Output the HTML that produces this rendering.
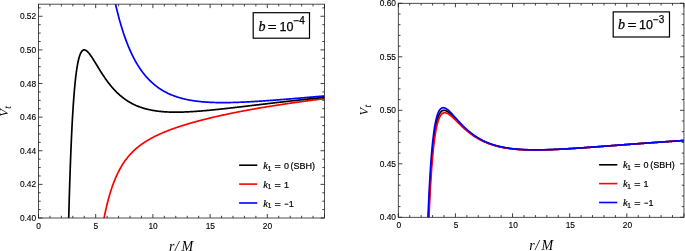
<!DOCTYPE html>
<html><head><meta charset="utf-8"><title>Vt plots</title>
<style>
html,body{margin:0;padding:0;background:#fff;}
svg{display:block}
.tk{font-family:"Liberation Sans",sans-serif;font-size:8.4px;fill:#000;stroke:#000;stroke-width:0.12px}
.ax{font-family:"Liberation Serif",serif;font-style:italic;font-size:14px;fill:#000}
.vt{font-size:12.5px}
.sub{font-size:10px}
.bx{font-family:"Liberation Sans",sans-serif;font-size:12.5px;fill:#000;stroke:#000;stroke-width:0.25px}
.it{font-family:"Liberation Serif",serif;font-style:italic;font-size:14px}
.sup{font-size:10px}
.lg{font-family:"Liberation Sans",sans-serif;font-size:9px;fill:#000;stroke:#000;stroke-width:0.2px}
.itl{font-family:"Liberation Serif",serif;font-style:italic;font-size:10.5px}
.lsub{font-size:6.5px}
</style></head><body>
<svg width="685" height="251" viewBox="0 0 685 251">
<rect width="685" height="251" fill="#fff"/>
<clipPath id="c38"><rect x="38.5" y="4.15" width="286.0" height="213.85"/></clipPath>
<path d="M102.39,-79.00 L102.93,-74.25 L103.47,-69.65 L104.02,-65.19 L104.56,-60.87 L105.10,-56.68 L105.65,-52.61 L106.19,-48.66 L106.73,-44.83 L107.28,-41.11 L107.82,-37.50 L108.36,-34.00 L108.91,-30.59 L109.45,-27.29 L109.99,-24.07 L110.54,-20.95 L111.08,-17.91 L111.62,-14.96 L112.17,-12.09 L112.71,-9.30 L113.25,-6.58 L113.80,-3.94 L114.34,-1.37 L114.88,1.14 L115.43,3.57 L115.97,5.94 L116.51,8.25 L117.06,10.50 L117.60,12.70 L118.14,14.83 L118.69,16.91 L119.23,18.94 L119.77,20.91 L120.32,22.84 L120.86,24.71 L121.40,26.54 L121.95,28.33 L122.49,30.06 L123.03,31.76 L123.58,33.42 L124.12,35.03 L124.66,36.60 L125.21,38.14 L125.75,39.64 L126.29,41.10 L126.84,42.53 L127.38,43.93 L127.92,45.29 L128.47,46.62 L129.01,47.91 L129.55,49.18 L130.10,50.42 L130.64,51.62 L131.18,52.80 L131.73,53.96 L132.27,55.08 L132.81,56.18 L133.36,57.26 L133.90,58.31 L134.44,59.33 L134.99,60.33 L135.53,61.31 L136.07,62.27 L136.62,63.21 L137.16,64.12 L137.70,65.02 L138.25,65.89 L138.79,66.75 L139.33,67.58 L139.88,68.40 L140.42,69.20 L140.96,69.98 L141.51,70.74 L142.05,71.49 L142.59,72.22 L143.14,72.93 L143.68,73.63 L144.22,74.31 L144.77,74.98 L145.31,75.64 L145.85,76.28 L146.40,76.90 L146.94,77.51 L147.48,78.11 L148.03,78.70 L148.57,79.27 L149.11,79.83 L149.66,80.38 L150.20,80.92 L150.74,81.44 L151.29,81.95 L151.83,82.46 L152.37,82.95 L152.92,83.43 L153.46,83.90 L154.01,84.36 L154.55,84.81 L155.09,85.25 L155.64,85.68 L156.18,86.10 L156.72,86.52 L157.27,86.92 L157.81,87.32 L158.35,87.70 L158.90,88.08 L159.44,88.45 L159.98,88.82 L160.53,89.17 L161.07,89.52 L161.61,89.86 L162.16,90.19 L162.70,90.51 L163.24,90.83 L163.79,91.14 L164.33,91.45 L164.87,91.75 L165.42,92.04 L165.96,92.32 L166.50,92.60 L167.05,92.87 L167.59,93.14 L168.13,93.40 L168.68,93.65 L169.22,93.90 L169.76,94.15 L170.31,94.39 L170.85,94.62 L171.39,94.85 L171.94,95.07 L172.48,95.29 L173.02,95.50 L173.57,95.71 L174.11,95.91 L174.65,96.11 L175.20,96.31 L175.74,96.50 L176.28,96.68 L176.83,96.86 L177.37,97.04 L177.91,97.21 L178.46,97.38 L179.00,97.55 L179.54,97.71 L180.09,97.87 L180.63,98.02 L181.17,98.17 L181.72,98.32 L182.26,98.46 L182.80,98.60 L183.35,98.74 L183.89,98.87 L184.43,99.00 L184.98,99.13 L185.52,99.25 L186.06,99.37 L186.61,99.49 L187.15,99.60 L187.69,99.71 L188.24,99.82 L188.78,99.93 L189.32,100.03 L189.87,100.13 L190.41,100.23 L190.95,100.32 L191.50,100.41 L192.04,100.50 L192.58,100.59 L193.13,100.68 L193.67,100.76 L194.21,100.84 L194.76,100.92 L195.30,100.99 L195.84,101.06 L196.39,101.14 L196.93,101.21 L197.47,101.27 L198.02,101.34 L198.56,101.40 L199.10,101.46 L199.65,101.52 L200.19,101.58 L200.73,101.63 L201.28,101.69 L201.82,101.74 L202.36,101.79 L202.91,101.83 L203.45,101.88 L203.99,101.92 L204.54,101.97 L205.08,102.01 L205.62,102.05 L206.17,102.09 L206.71,102.12 L207.25,102.16 L207.80,102.19 L208.34,102.22 L208.88,102.25 L209.43,102.28 L209.97,102.31 L210.51,102.34 L211.06,102.36 L211.60,102.39 L212.14,102.41 L212.69,102.43 L213.23,102.45 L213.77,102.47 L214.32,102.48 L214.86,102.50 L215.40,102.52 L215.95,102.53 L216.49,102.54 L217.03,102.55 L217.58,102.56 L218.12,102.57 L218.66,102.58 L219.21,102.59 L219.75,102.60 L220.29,102.60 L220.84,102.61 L221.38,102.61 L221.92,102.61 L222.47,102.61 L223.01,102.61 L223.55,102.61 L224.10,102.61 L224.64,102.61 L225.18,102.61 L225.73,102.60 L226.27,102.60 L226.81,102.59 L227.36,102.59 L227.90,102.58 L228.44,102.57 L228.99,102.56 L229.53,102.55 L230.07,102.54 L230.62,102.53 L231.16,102.52 L231.70,102.51 L232.25,102.50 L232.79,102.48 L233.33,102.47 L233.88,102.45 L234.42,102.44 L234.96,102.42 L235.51,102.41 L236.05,102.39 L236.59,102.37 L237.14,102.35 L237.68,102.33 L238.22,102.31 L238.77,102.29 L239.31,102.27 L239.85,102.25 L240.40,102.23 L240.94,102.21 L241.48,102.18 L242.03,102.16 L242.57,102.14 L243.11,102.11 L243.66,102.09 L244.20,102.06 L244.74,102.04 L245.29,102.01 L245.83,101.98 L246.37,101.96 L246.92,101.93 L247.46,101.90 L248.00,101.87 L248.55,101.84 L249.09,101.82 L249.63,101.79 L250.18,101.76 L250.72,101.73 L251.26,101.70 L251.81,101.66 L252.35,101.63 L252.89,101.60 L253.44,101.57 L253.98,101.54 L254.52,101.50 L255.07,101.47 L255.61,101.44 L256.15,101.40 L256.70,101.37 L257.24,101.34 L257.78,101.30 L258.33,101.27 L258.87,101.23 L259.41,101.20 L259.96,101.16 L260.50,101.13 L261.04,101.09 L261.59,101.05 L262.13,101.02 L262.67,100.98 L263.22,100.94 L263.76,100.90 L264.30,100.87 L264.85,100.83 L265.39,100.79 L265.93,100.75 L266.48,100.71 L267.02,100.68 L267.56,100.64 L268.11,100.60 L268.65,100.56 L269.19,100.52 L269.74,100.48 L270.28,100.44 L270.82,100.40 L271.37,100.36 L271.91,100.32 L272.45,100.28 L273.00,100.24 L273.54,100.20 L274.08,100.15 L274.63,100.11 L275.17,100.07 L275.71,100.03 L276.26,99.99 L276.80,99.95 L277.34,99.90 L277.89,99.86 L278.43,99.82 L278.97,99.78 L279.52,99.73 L280.06,99.69 L280.60,99.65 L281.15,99.61 L281.69,99.56 L282.23,99.52 L282.78,99.48 L283.32,99.43 L283.86,99.39 L284.41,99.35 L284.95,99.30 L285.49,99.26 L286.04,99.22 L286.58,99.17 L287.12,99.13 L287.67,99.08 L288.21,99.04 L288.75,98.99 L289.30,98.95 L289.84,98.91 L290.38,98.86 L290.93,98.82 L291.47,98.77 L292.01,98.73 L292.56,98.68 L293.10,98.64 L293.64,98.59 L294.19,98.55 L294.73,98.50 L295.27,98.46 L295.82,98.41 L296.36,98.37 L296.90,98.32 L297.45,98.28 L297.99,98.23 L298.53,98.19 L299.08,98.14 L299.62,98.09 L300.16,98.05 L300.71,98.00 L301.25,97.96 L301.79,97.91 L302.34,97.87 L302.88,97.82 L303.42,97.77 L303.97,97.73 L304.51,97.68 L305.05,97.64 L305.60,97.59 L306.14,97.54 L306.68,97.50 L307.23,97.45 L307.77,97.41 L308.31,97.36 L308.86,97.31 L309.40,97.27 L309.94,97.22 L310.49,97.18 L311.03,97.13 L311.57,97.08 L312.12,97.04 L312.66,96.99 L313.20,96.95 L313.75,96.90 L314.29,96.85 L314.83,96.81 L315.38,96.76 L315.92,96.72 L316.46,96.67 L317.01,96.62 L317.55,96.58 L318.09,96.53 L318.64,96.48 L319.18,96.44 L319.72,96.39 L320.27,96.35 L320.81,96.30 L321.35,96.25 L321.90,96.21 L322.44,96.16 L322.98,96.12 L323.53,96.07 L324.07,96.02 L324.61,95.98 L325.16,95.93 L325.70,95.89 L326.24,95.84 L326.79,95.79" fill="none" stroke="#00f" stroke-width="1.7" clip-path="url(#c38)" stroke-linejoin="round"/>
<path d="M93.69,301.21 L94.24,294.77 L94.78,288.64 L95.32,282.81 L95.87,277.25 L96.41,271.95 L96.95,266.90 L97.50,262.08 L98.04,257.48 L98.58,253.09 L99.13,248.89 L99.67,244.88 L100.21,241.04 L100.76,237.37 L101.30,233.86 L101.84,230.49 L102.39,227.27 L102.93,224.18 L103.47,221.22 L104.02,218.38 L104.56,215.65 L105.10,213.03 L105.65,210.52 L106.19,208.10 L106.73,205.78 L107.28,203.55 L107.82,201.40 L108.36,199.33 L108.91,197.34 L109.45,195.42 L109.99,193.57 L110.54,191.79 L111.08,190.07 L111.62,188.42 L112.17,186.82 L112.71,185.27 L113.25,183.78 L113.80,182.34 L114.34,180.95 L114.88,179.60 L115.43,178.30 L115.97,177.04 L116.51,175.82 L117.06,174.63 L117.60,173.49 L118.14,172.38 L118.69,171.30 L119.23,170.26 L119.77,169.25 L120.32,168.27 L120.86,167.31 L121.40,166.39 L121.95,165.49 L122.49,164.61 L123.03,163.76 L123.58,162.93 L124.12,162.13 L124.66,161.35 L125.21,160.58 L125.75,159.84 L126.29,159.12 L126.84,158.41 L127.38,157.73 L127.92,157.06 L128.47,156.40 L129.01,155.77 L129.55,155.14 L130.10,154.54 L130.64,153.94 L131.18,153.36 L131.73,152.80 L132.27,152.24 L132.81,151.70 L133.36,151.17 L133.90,150.65 L134.44,150.14 L134.99,149.64 L135.53,149.16 L136.07,148.68 L136.62,148.21 L137.16,147.75 L137.70,147.31 L138.25,146.86 L138.79,146.43 L139.33,146.01 L139.88,145.59 L140.42,145.18 L140.96,144.78 L141.51,144.39 L142.05,144.00 L142.59,143.62 L143.14,143.24 L143.68,142.88 L144.22,142.51 L144.77,142.16 L145.31,141.81 L145.85,141.46 L146.40,141.12 L146.94,140.79 L147.48,140.46 L148.03,140.13 L148.57,139.81 L149.11,139.50 L149.66,139.19 L150.20,138.88 L150.74,138.58 L151.29,138.28 L151.83,137.99 L152.37,137.70 L152.92,137.41 L153.46,137.13 L154.01,136.85 L154.55,136.57 L155.09,136.30 L155.64,136.03 L156.18,135.77 L156.72,135.50 L157.27,135.24 L157.81,134.99 L158.35,134.74 L158.90,134.48 L159.44,134.24 L159.98,133.99 L160.53,133.75 L161.07,133.51 L161.61,133.27 L162.16,133.04 L162.70,132.80 L163.24,132.57 L163.79,132.35 L164.33,132.12 L164.87,131.90 L165.42,131.68 L165.96,131.46 L166.50,131.24 L167.05,131.02 L167.59,130.81 L168.13,130.60 L168.68,130.39 L169.22,130.18 L169.76,129.98 L170.31,129.77 L170.85,129.57 L171.39,129.37 L171.94,129.17 L172.48,128.97 L173.02,128.78 L173.57,128.58 L174.11,128.39 L174.65,128.20 L175.20,128.01 L175.74,127.82 L176.28,127.63 L176.83,127.45 L177.37,127.26 L177.91,127.08 L178.46,126.90 L179.00,126.72 L179.54,126.54 L180.09,126.36 L180.63,126.19 L181.17,126.01 L181.72,125.84 L182.26,125.66 L182.80,125.49 L183.35,125.32 L183.89,125.15 L184.43,124.98 L184.98,124.82 L185.52,124.65 L186.06,124.49 L186.61,124.32 L187.15,124.16 L187.69,124.00 L188.24,123.83 L188.78,123.67 L189.32,123.51 L189.87,123.36 L190.41,123.20 L190.95,123.04 L191.50,122.89 L192.04,122.73 L192.58,122.58 L193.13,122.42 L193.67,122.27 L194.21,122.12 L194.76,121.97 L195.30,121.82 L195.84,121.67 L196.39,121.52 L196.93,121.38 L197.47,121.23 L198.02,121.08 L198.56,120.94 L199.10,120.79 L199.65,120.65 L200.19,120.51 L200.73,120.36 L201.28,120.22 L201.82,120.08 L202.36,119.94 L202.91,119.80 L203.45,119.66 L203.99,119.53 L204.54,119.39 L205.08,119.25 L205.62,119.11 L206.17,118.98 L206.71,118.84 L207.25,118.71 L207.80,118.58 L208.34,118.44 L208.88,118.31 L209.43,118.18 L209.97,118.05 L210.51,117.92 L211.06,117.79 L211.60,117.66 L212.14,117.53 L212.69,117.40 L213.23,117.27 L213.77,117.15 L214.32,117.02 L214.86,116.89 L215.40,116.77 L215.95,116.64 L216.49,116.52 L217.03,116.39 L217.58,116.27 L218.12,116.15 L218.66,116.03 L219.21,115.90 L219.75,115.78 L220.29,115.66 L220.84,115.54 L221.38,115.42 L221.92,115.30 L222.47,115.18 L223.01,115.06 L223.55,114.95 L224.10,114.83 L224.64,114.71 L225.18,114.59 L225.73,114.48 L226.27,114.36 L226.81,114.25 L227.36,114.13 L227.90,114.02 L228.44,113.90 L228.99,113.79 L229.53,113.68 L230.07,113.57 L230.62,113.45 L231.16,113.34 L231.70,113.23 L232.25,113.12 L232.79,113.01 L233.33,112.90 L233.88,112.79 L234.42,112.68 L234.96,112.57 L235.51,112.46 L236.05,112.35 L236.59,112.25 L237.14,112.14 L237.68,112.03 L238.22,111.93 L238.77,111.82 L239.31,111.71 L239.85,111.61 L240.40,111.50 L240.94,111.40 L241.48,111.29 L242.03,111.19 L242.57,111.09 L243.11,110.98 L243.66,110.88 L244.20,110.78 L244.74,110.68 L245.29,110.57 L245.83,110.47 L246.37,110.37 L246.92,110.27 L247.46,110.17 L248.00,110.07 L248.55,109.97 L249.09,109.87 L249.63,109.77 L250.18,109.67 L250.72,109.58 L251.26,109.48 L251.81,109.38 L252.35,109.28 L252.89,109.19 L253.44,109.09 L253.98,108.99 L254.52,108.90 L255.07,108.80 L255.61,108.71 L256.15,108.61 L256.70,108.52 L257.24,108.42 L257.78,108.33 L258.33,108.23 L258.87,108.14 L259.41,108.05 L259.96,107.96 L260.50,107.86 L261.04,107.77 L261.59,107.68 L262.13,107.59 L262.67,107.50 L263.22,107.40 L263.76,107.31 L264.30,107.22 L264.85,107.13 L265.39,107.04 L265.93,106.95 L266.48,106.86 L267.02,106.77 L267.56,106.69 L268.11,106.60 L268.65,106.51 L269.19,106.42 L269.74,106.33 L270.28,106.25 L270.82,106.16 L271.37,106.07 L271.91,105.99 L272.45,105.90 L273.00,105.81 L273.54,105.73 L274.08,105.64 L274.63,105.56 L275.17,105.47 L275.71,105.39 L276.26,105.30 L276.80,105.22 L277.34,105.13 L277.89,105.05 L278.43,104.97 L278.97,104.88 L279.52,104.80 L280.06,104.72 L280.60,104.64 L281.15,104.55 L281.69,104.47 L282.23,104.39 L282.78,104.31 L283.32,104.23 L283.86,104.15 L284.41,104.07 L284.95,103.98 L285.49,103.90 L286.04,103.82 L286.58,103.74 L287.12,103.66 L287.67,103.59 L288.21,103.51 L288.75,103.43 L289.30,103.35 L289.84,103.27 L290.38,103.19 L290.93,103.11 L291.47,103.04 L292.01,102.96 L292.56,102.88 L293.10,102.80 L293.64,102.73 L294.19,102.65 L294.73,102.58 L295.27,102.50 L295.82,102.42 L296.36,102.35 L296.90,102.27 L297.45,102.20 L297.99,102.12 L298.53,102.05 L299.08,101.97 L299.62,101.90 L300.16,101.82 L300.71,101.75 L301.25,101.68 L301.79,101.60 L302.34,101.53 L302.88,101.46 L303.42,101.38 L303.97,101.31 L304.51,101.24 L305.05,101.16 L305.60,101.09 L306.14,101.02 L306.68,100.95 L307.23,100.88 L307.77,100.81 L308.31,100.73 L308.86,100.66 L309.40,100.59 L309.94,100.52 L310.49,100.45 L311.03,100.38 L311.57,100.31 L312.12,100.24 L312.66,100.17 L313.20,100.10 L313.75,100.03 L314.29,99.97 L314.83,99.90 L315.38,99.83 L315.92,99.76 L316.46,99.69 L317.01,99.62 L317.55,99.55 L318.09,99.49 L318.64,99.42 L319.18,99.35 L319.72,99.28 L320.27,99.22 L320.81,99.15 L321.35,99.08 L321.90,99.02 L322.44,98.95 L322.98,98.89 L323.53,98.82 L324.07,98.75 L324.61,98.69 L325.16,98.62 L325.70,98.56 L326.24,98.49 L326.79,98.43" fill="none" stroke="#f00" stroke-width="1.7" clip-path="url(#c38)" stroke-linejoin="round"/>
<path d="M67.07,293.57 L67.61,265.85 L68.16,241.08 L68.70,218.93 L69.24,199.13 L69.79,181.43 L70.33,165.61 L70.87,151.47 L71.42,138.83 L71.96,127.56 L72.50,117.50 L73.05,108.54 L73.59,100.57 L74.13,93.48 L74.68,87.20 L75.22,81.64 L75.76,76.73 L76.31,72.41 L76.85,68.62 L77.39,65.31 L77.94,62.43 L78.48,59.95 L79.02,57.82 L79.57,56.02 L80.11,54.50 L80.65,53.24 L81.20,52.22 L81.74,51.41 L82.28,50.79 L82.83,50.35 L83.37,50.07 L83.91,49.92 L84.46,49.91 L85.00,50.00 L85.54,50.20 L86.09,50.50 L86.63,50.87 L87.17,51.32 L87.72,51.83 L88.26,52.40 L88.80,53.02 L89.35,53.69 L89.89,54.39 L90.43,55.13 L90.98,55.90 L91.52,56.70 L92.06,57.52 L92.61,58.36 L93.15,59.21 L93.69,60.08 L94.24,60.96 L94.78,61.84 L95.32,62.73 L95.87,63.62 L96.41,64.52 L96.95,65.41 L97.50,66.31 L98.04,67.20 L98.58,68.09 L99.13,68.97 L99.67,69.85 L100.21,70.73 L100.76,71.59 L101.30,72.45 L101.84,73.29 L102.39,74.13 L102.93,74.96 L103.47,75.78 L104.02,76.59 L104.56,77.39 L105.10,78.18 L105.65,78.96 L106.19,79.72 L106.73,80.47 L107.28,81.22 L107.82,81.95 L108.36,82.67 L108.91,83.37 L109.45,84.07 L109.99,84.75 L110.54,85.42 L111.08,86.08 L111.62,86.73 L112.17,87.36 L112.71,87.99 L113.25,88.60 L113.80,89.20 L114.34,89.79 L114.88,90.37 L115.43,90.94 L115.97,91.49 L116.51,92.04 L117.06,92.57 L117.60,93.09 L118.14,93.60 L118.69,94.11 L119.23,94.60 L119.77,95.08 L120.32,95.55 L120.86,96.01 L121.40,96.46 L121.95,96.91 L122.49,97.34 L123.03,97.76 L123.58,98.18 L124.12,98.58 L124.66,98.98 L125.21,99.36 L125.75,99.74 L126.29,100.11 L126.84,100.47 L127.38,100.83 L127.92,101.17 L128.47,101.51 L129.01,101.84 L129.55,102.16 L130.10,102.48 L130.64,102.78 L131.18,103.08 L131.73,103.38 L132.27,103.66 L132.81,103.94 L133.36,104.21 L133.90,104.48 L134.44,104.74 L134.99,104.99 L135.53,105.24 L136.07,105.48 L136.62,105.71 L137.16,105.94 L137.70,106.16 L138.25,106.38 L138.79,106.59 L139.33,106.79 L139.88,106.99 L140.42,107.19 L140.96,107.38 L141.51,107.56 L142.05,107.74 L142.59,107.92 L143.14,108.09 L143.68,108.25 L144.22,108.41 L144.77,108.57 L145.31,108.72 L145.85,108.87 L146.40,109.01 L146.94,109.15 L147.48,109.28 L148.03,109.41 L148.57,109.54 L149.11,109.66 L149.66,109.78 L150.20,109.90 L150.74,110.01 L151.29,110.12 L151.83,110.22 L152.37,110.32 L152.92,110.42 L153.46,110.51 L154.01,110.60 L154.55,110.69 L155.09,110.78 L155.64,110.86 L156.18,110.94 L156.72,111.01 L157.27,111.08 L157.81,111.15 L158.35,111.22 L158.90,111.28 L159.44,111.35 L159.98,111.40 L160.53,111.46 L161.07,111.51 L161.61,111.56 L162.16,111.61 L162.70,111.66 L163.24,111.70 L163.79,111.74 L164.33,111.78 L164.87,111.82 L165.42,111.86 L165.96,111.89 L166.50,111.92 L167.05,111.95 L167.59,111.98 L168.13,112.00 L168.68,112.02 L169.22,112.04 L169.76,112.06 L170.31,112.08 L170.85,112.10 L171.39,112.11 L171.94,112.12 L172.48,112.13 L173.02,112.14 L173.57,112.15 L174.11,112.15 L174.65,112.16 L175.20,112.16 L175.74,112.16 L176.28,112.16 L176.83,112.16 L177.37,112.15 L177.91,112.15 L178.46,112.14 L179.00,112.13 L179.54,112.13 L180.09,112.12 L180.63,112.10 L181.17,112.09 L181.72,112.08 L182.26,112.06 L182.80,112.05 L183.35,112.03 L183.89,112.01 L184.43,111.99 L184.98,111.97 L185.52,111.95 L186.06,111.93 L186.61,111.90 L187.15,111.88 L187.69,111.85 L188.24,111.83 L188.78,111.80 L189.32,111.77 L189.87,111.74 L190.41,111.71 L190.95,111.68 L191.50,111.65 L192.04,111.62 L192.58,111.58 L193.13,111.55 L193.67,111.51 L194.21,111.48 L194.76,111.44 L195.30,111.41 L195.84,111.37 L196.39,111.33 L196.93,111.29 L197.47,111.25 L198.02,111.21 L198.56,111.17 L199.10,111.13 L199.65,111.08 L200.19,111.04 L200.73,111.00 L201.28,110.95 L201.82,110.91 L202.36,110.86 L202.91,110.82 L203.45,110.77 L203.99,110.73 L204.54,110.68 L205.08,110.63 L205.62,110.58 L206.17,110.53 L206.71,110.48 L207.25,110.43 L207.80,110.38 L208.34,110.33 L208.88,110.28 L209.43,110.23 L209.97,110.18 L210.51,110.13 L211.06,110.07 L211.60,110.02 L212.14,109.97 L212.69,109.92 L213.23,109.86 L213.77,109.81 L214.32,109.75 L214.86,109.70 L215.40,109.64 L215.95,109.59 L216.49,109.53 L217.03,109.47 L217.58,109.42 L218.12,109.36 L218.66,109.30 L219.21,109.25 L219.75,109.19 L220.29,109.13 L220.84,109.07 L221.38,109.01 L221.92,108.96 L222.47,108.90 L223.01,108.84 L223.55,108.78 L224.10,108.72 L224.64,108.66 L225.18,108.60 L225.73,108.54 L226.27,108.48 L226.81,108.42 L227.36,108.36 L227.90,108.30 L228.44,108.24 L228.99,108.18 L229.53,108.12 L230.07,108.05 L230.62,107.99 L231.16,107.93 L231.70,107.87 L232.25,107.81 L232.79,107.75 L233.33,107.68 L233.88,107.62 L234.42,107.56 L234.96,107.50 L235.51,107.43 L236.05,107.37 L236.59,107.31 L237.14,107.25 L237.68,107.18 L238.22,107.12 L238.77,107.06 L239.31,106.99 L239.85,106.93 L240.40,106.87 L240.94,106.80 L241.48,106.74 L242.03,106.68 L242.57,106.61 L243.11,106.55 L243.66,106.48 L244.20,106.42 L244.74,106.36 L245.29,106.29 L245.83,106.23 L246.37,106.16 L246.92,106.10 L247.46,106.04 L248.00,105.97 L248.55,105.91 L249.09,105.84 L249.63,105.78 L250.18,105.72 L250.72,105.65 L251.26,105.59 L251.81,105.52 L252.35,105.46 L252.89,105.39 L253.44,105.33 L253.98,105.27 L254.52,105.20 L255.07,105.14 L255.61,105.07 L256.15,105.01 L256.70,104.94 L257.24,104.88 L257.78,104.82 L258.33,104.75 L258.87,104.69 L259.41,104.62 L259.96,104.56 L260.50,104.49 L261.04,104.43 L261.59,104.37 L262.13,104.30 L262.67,104.24 L263.22,104.17 L263.76,104.11 L264.30,104.04 L264.85,103.98 L265.39,103.92 L265.93,103.85 L266.48,103.79 L267.02,103.72 L267.56,103.66 L268.11,103.60 L268.65,103.53 L269.19,103.47 L269.74,103.41 L270.28,103.34 L270.82,103.28 L271.37,103.22 L271.91,103.15 L272.45,103.09 L273.00,103.02 L273.54,102.96 L274.08,102.90 L274.63,102.83 L275.17,102.77 L275.71,102.71 L276.26,102.65 L276.80,102.58 L277.34,102.52 L277.89,102.46 L278.43,102.39 L278.97,102.33 L279.52,102.27 L280.06,102.21 L280.60,102.14 L281.15,102.08 L281.69,102.02 L282.23,101.95 L282.78,101.89 L283.32,101.83 L283.86,101.77 L284.41,101.71 L284.95,101.64 L285.49,101.58 L286.04,101.52 L286.58,101.46 L287.12,101.40 L287.67,101.33 L288.21,101.27 L288.75,101.21 L289.30,101.15 L289.84,101.09 L290.38,101.03 L290.93,100.97 L291.47,100.90 L292.01,100.84 L292.56,100.78 L293.10,100.72 L293.64,100.66 L294.19,100.60 L294.73,100.54 L295.27,100.48 L295.82,100.42 L296.36,100.36 L296.90,100.30 L297.45,100.24 L297.99,100.18 L298.53,100.12 L299.08,100.06 L299.62,100.00 L300.16,99.94 L300.71,99.88 L301.25,99.82 L301.79,99.76 L302.34,99.70 L302.88,99.64 L303.42,99.58 L303.97,99.52 L304.51,99.46 L305.05,99.40 L305.60,99.34 L306.14,99.28 L306.68,99.22 L307.23,99.17 L307.77,99.11 L308.31,99.05 L308.86,98.99 L309.40,98.93 L309.94,98.87 L310.49,98.81 L311.03,98.76 L311.57,98.70 L312.12,98.64 L312.66,98.58 L313.20,98.52 L313.75,98.47 L314.29,98.41 L314.83,98.35 L315.38,98.29 L315.92,98.24 L316.46,98.18 L317.01,98.12 L317.55,98.07 L318.09,98.01 L318.64,97.95 L319.18,97.90 L319.72,97.84 L320.27,97.78 L320.81,97.73 L321.35,97.67 L321.90,97.61 L322.44,97.56 L322.98,97.50 L323.53,97.44 L324.07,97.39 L324.61,97.33 L325.16,97.28 L325.70,97.22 L326.24,97.17 L326.79,97.11" fill="none" stroke="#000" stroke-width="1.7" clip-path="url(#c38)" stroke-linejoin="round"/>
<path d="M38.50,218.0v-4.0M38.50,4.15v4.0M49.94,218.0v-2.2M49.94,4.15v2.2M61.38,218.0v-2.2M61.38,4.15v2.2M72.82,218.0v-2.2M72.82,4.15v2.2M84.26,218.0v-2.2M84.26,4.15v2.2M95.70,218.0v-4.0M95.70,4.15v4.0M107.14,218.0v-2.2M107.14,4.15v2.2M118.58,218.0v-2.2M118.58,4.15v2.2M130.02,218.0v-2.2M130.02,4.15v2.2M141.46,218.0v-2.2M141.46,4.15v2.2M152.90,218.0v-4.0M152.90,4.15v4.0M164.34,218.0v-2.2M164.34,4.15v2.2M175.78,218.0v-2.2M175.78,4.15v2.2M187.22,218.0v-2.2M187.22,4.15v2.2M198.66,218.0v-2.2M198.66,4.15v2.2M210.10,218.0v-4.0M210.10,4.15v4.0M221.54,218.0v-2.2M221.54,4.15v2.2M232.98,218.0v-2.2M232.98,4.15v2.2M244.42,218.0v-2.2M244.42,4.15v2.2M255.86,218.0v-2.2M255.86,4.15v2.2M267.30,218.0v-4.0M267.30,4.15v4.0M278.74,218.0v-2.2M278.74,4.15v2.2M290.18,218.0v-2.2M290.18,4.15v2.2M301.62,218.0v-2.2M301.62,4.15v2.2M313.06,218.0v-2.2M313.06,4.15v2.2M324.50,218.0v-4.0M324.50,4.15v4.0M38.5,218.00h4.0M324.5,218.00h-4.0M38.5,209.59h2.2M324.5,209.59h-2.2M38.5,201.19h2.2M324.5,201.19h-2.2M38.5,192.78h2.2M324.5,192.78h-2.2M38.5,184.38h4.0M324.5,184.38h-4.0M38.5,175.97h2.2M324.5,175.97h-2.2M38.5,167.57h2.2M324.5,167.57h-2.2M38.5,159.16h2.2M324.5,159.16h-2.2M38.5,150.76h4.0M324.5,150.76h-4.0M38.5,142.36h2.2M324.5,142.36h-2.2M38.5,133.95h2.2M324.5,133.95h-2.2M38.5,125.55h2.2M324.5,125.55h-2.2M38.5,117.14h4.0M324.5,117.14h-4.0M38.5,108.74h2.2M324.5,108.74h-2.2M38.5,100.33h2.2M324.5,100.33h-2.2M38.5,91.92h2.2M324.5,91.92h-2.2M38.5,83.52h4.0M324.5,83.52h-4.0M38.5,75.11h2.2M324.5,75.11h-2.2M38.5,66.71h2.2M324.5,66.71h-2.2M38.5,58.31h2.2M324.5,58.31h-2.2M38.5,49.90h4.0M324.5,49.90h-4.0M38.5,41.50h2.2M324.5,41.50h-2.2M38.5,33.09h2.2M324.5,33.09h-2.2M38.5,24.69h2.2M324.5,24.69h-2.2M38.5,16.28h4.0M324.5,16.28h-4.0M38.5,7.88h2.2M324.5,7.88h-2.2" stroke="#000" stroke-width="0.75" fill="none"/>
<rect x="38.5" y="4.15" width="286.0" height="213.85" fill="none" stroke="#222" stroke-width="0.8"/>
<text x="38.70" y="228.5" text-anchor="middle" class="tk">0</text>
<text x="95.90" y="228.5" text-anchor="middle" class="tk">5</text>
<text x="153.10" y="228.5" text-anchor="middle" class="tk">10</text>
<text x="210.30" y="228.5" text-anchor="middle" class="tk">15</text>
<text x="267.50" y="228.5" text-anchor="middle" class="tk">20</text>
<text x="36.2" y="221.10" text-anchor="end" class="tk">0.40</text>
<text x="36.2" y="187.48" text-anchor="end" class="tk">0.42</text>
<text x="36.2" y="153.86" text-anchor="end" class="tk">0.44</text>
<text x="36.2" y="120.24" text-anchor="end" class="tk">0.46</text>
<text x="36.2" y="86.62" text-anchor="end" class="tk">0.48</text>
<text x="36.2" y="53.00" text-anchor="end" class="tk">0.50</text>
<text x="36.2" y="19.38" text-anchor="end" class="tk">0.52</text>
<text y="251.0" class="ax"><tspan x="169.1">r</tspan><tspan x="175.0">/</tspan><tspan x="181.4">M</tspan></text>
<text transform="translate(8.3,116.7) rotate(-90)" class="ax vt">V<tspan class="sub" dy="2.4" dx="0.4">t</tspan></text>
<rect x="253.2" y="12.7" width="56.30000000000001" height="25.500000000000004" fill="#fff" stroke="#000" stroke-width="1.2"/>
<text x="258.5" y="30.6" class="bx it">b</text>
<text transform="translate(267.8,30.6) scale(1.22,1)" class="bx">=</text>
<text x="279.5" y="30.6" class="bx">10<tspan class="sup" dy="-6.2">−4</tspan></text>
<path d="M239.1,165.2H257.3" stroke="#000" stroke-width="1.6"/>
<text x="263.2" y="168.7" class="lg"><tspan class="itl">k</tspan><tspan class="lsub" dy="1.8" dx="-0.2">1</tspan></text>
<text transform="translate(274.5,168.7) scale(1.2,1)" class="lg">=</text>
<text x="283.9" y="168.7" class="lg">0<tspan dx="1.6">(SBH)</tspan></text>
<path d="M239.1,184.1H257.3" stroke="#f00" stroke-width="1.6"/>
<text x="263.2" y="187.6" class="lg"><tspan class="itl">k</tspan><tspan class="lsub" dy="1.8" dx="-0.2">1</tspan></text>
<text transform="translate(274.5,187.6) scale(1.2,1)" class="lg">=</text>
<text x="283.9" y="187.6" class="lg">1</text>
<path d="M239.1,203.0H257.3" stroke="#00f" stroke-width="1.6"/>
<text x="263.2" y="206.5" class="lg"><tspan class="itl">k</tspan><tspan class="lsub" dy="1.8" dx="-0.2">1</tspan></text>
<text transform="translate(274.5,206.5) scale(1.2,1)" class="lg">=</text>
<text transform="translate(284.2,206.5) scale(0.82,1)" class="lg">−</text>
<text x="288.7" y="206.5" class="lg">1</text>
<clipPath id="c398"><rect x="398.3" y="3.3" width="285.65000000000003" height="214.0"/></clipPath>
<path d="M426.84,265.40 L427.38,247.76 L427.92,231.99 L428.46,217.89 L429.01,205.29 L429.55,194.02 L430.09,183.95 L430.63,174.95 L431.18,166.91 L431.72,159.73 L432.26,153.33 L432.80,147.63 L433.35,142.55 L433.89,138.04 L434.43,134.04 L434.98,130.50 L435.52,127.38 L436.06,124.63 L436.60,122.22 L437.15,120.11 L437.69,118.28 L438.23,116.70 L438.77,115.34 L439.32,114.19 L439.86,113.23 L440.40,112.43 L440.94,111.78 L441.49,111.26 L442.03,110.87 L442.57,110.59 L443.12,110.41 L443.66,110.32 L444.20,110.30 L444.74,110.37 L445.29,110.49 L445.83,110.68 L446.37,110.92 L446.91,111.20 L447.46,111.53 L448.00,111.89 L448.54,112.29 L449.09,112.71 L449.63,113.16 L450.17,113.63 L450.71,114.12 L451.26,114.63 L451.80,115.15 L452.34,115.68 L452.88,116.23 L453.43,116.78 L453.97,117.34 L454.51,117.90 L455.05,118.47 L455.60,119.04 L456.14,119.61 L456.68,120.18 L457.23,120.75 L457.77,121.31 L458.31,121.88 L458.85,122.44 L459.40,123.00 L459.94,123.56 L460.48,124.11 L461.02,124.65 L461.57,125.19 L462.11,125.73 L462.65,126.25 L463.19,126.78 L463.74,127.29 L464.28,127.80 L464.82,128.30 L465.37,128.79 L465.91,129.28 L466.45,129.76 L466.99,130.23 L467.54,130.70 L468.08,131.16 L468.62,131.61 L469.16,132.05 L469.71,132.48 L470.25,132.91 L470.79,133.33 L471.33,133.74 L471.88,134.15 L472.42,134.54 L472.96,134.93 L473.51,135.32 L474.05,135.69 L474.59,136.06 L475.13,136.42 L475.68,136.77 L476.22,137.12 L476.76,137.46 L477.30,137.79 L477.85,138.12 L478.39,138.44 L478.93,138.75 L479.47,139.06 L480.02,139.36 L480.56,139.65 L481.10,139.94 L481.65,140.22 L482.19,140.50 L482.73,140.76 L483.27,141.03 L483.82,141.29 L484.36,141.54 L484.90,141.78 L485.44,142.03 L485.99,142.26 L486.53,142.49 L487.07,142.72 L487.62,142.94 L488.16,143.15 L488.70,143.36 L489.24,143.57 L489.79,143.77 L490.33,143.96 L490.87,144.15 L491.41,144.34 L491.96,144.52 L492.50,144.70 L493.04,144.87 L493.58,145.04 L494.13,145.21 L494.67,145.37 L495.21,145.52 L495.76,145.68 L496.30,145.82 L496.84,145.97 L497.38,146.11 L497.93,146.25 L498.47,146.38 L499.01,146.51 L499.55,146.64 L500.10,146.77 L500.64,146.89 L501.18,147.00 L501.72,147.12 L502.27,147.23 L502.81,147.34 L503.35,147.44 L503.90,147.55 L504.44,147.64 L504.98,147.74 L505.52,147.83 L506.07,147.93 L506.61,148.01 L507.15,148.10 L507.69,148.18 L508.24,148.26 L508.78,148.34 L509.32,148.42 L509.86,148.49 L510.41,148.56 L510.95,148.63 L511.49,148.70 L512.04,148.76 L512.58,148.82 L513.12,148.88 L513.66,148.94 L514.21,149.00 L514.75,149.05 L515.29,149.10 L515.83,149.15 L516.38,149.20 L516.92,149.24 L517.46,149.29 L518.01,149.33 L518.55,149.37 L519.09,149.41 L519.63,149.45 L520.18,149.48 L520.72,149.52 L521.26,149.55 L521.80,149.58 L522.35,149.61 L522.89,149.64 L523.43,149.67 L523.97,149.69 L524.52,149.71 L525.06,149.74 L525.60,149.76 L526.15,149.78 L526.69,149.80 L527.23,149.81 L527.77,149.83 L528.32,149.84 L528.86,149.86 L529.40,149.87 L529.94,149.88 L530.49,149.89 L531.03,149.90 L531.57,149.91 L532.11,149.91 L532.66,149.92 L533.20,149.92 L533.74,149.93 L534.29,149.93 L534.83,149.93 L535.37,149.93 L535.91,149.93 L536.46,149.93 L537.00,149.93 L537.54,149.92 L538.08,149.92 L538.63,149.91 L539.17,149.91 L539.71,149.90 L540.25,149.89 L540.80,149.89 L541.34,149.88 L541.88,149.87 L542.43,149.86 L542.97,149.85 L543.51,149.84 L544.05,149.82 L544.60,149.81 L545.14,149.80 L545.68,149.78 L546.22,149.77 L546.77,149.75 L547.31,149.74 L547.85,149.72 L548.40,149.70 L548.94,149.68 L549.48,149.66 L550.02,149.65 L550.57,149.63 L551.11,149.61 L551.65,149.58 L552.19,149.56 L552.74,149.54 L553.28,149.52 L553.82,149.50 L554.36,149.47 L554.91,149.45 L555.45,149.43 L555.99,149.40 L556.54,149.38 L557.08,149.35 L557.62,149.33 L558.16,149.30 L558.71,149.27 L559.25,149.25 L559.79,149.22 L560.33,149.19 L560.88,149.16 L561.42,149.13 L561.96,149.11 L562.50,149.08 L563.05,149.05 L563.59,149.02 L564.13,148.99 L564.68,148.96 L565.22,148.93 L565.76,148.89 L566.30,148.86 L566.85,148.83 L567.39,148.80 L567.93,148.77 L568.47,148.74 L569.02,148.70 L569.56,148.67 L570.10,148.64 L570.64,148.60 L571.19,148.57 L571.73,148.54 L572.27,148.50 L572.82,148.47 L573.36,148.43 L573.90,148.40 L574.44,148.36 L574.99,148.33 L575.53,148.29 L576.07,148.26 L576.61,148.22 L577.16,148.18 L577.70,148.15 L578.24,148.11 L578.79,148.08 L579.33,148.04 L579.87,148.00 L580.41,147.97 L580.96,147.93 L581.50,147.89 L582.04,147.85 L582.58,147.82 L583.13,147.78 L583.67,147.74 L584.21,147.70 L584.75,147.66 L585.30,147.63 L585.84,147.59 L586.38,147.55 L586.93,147.51 L587.47,147.47 L588.01,147.43 L588.55,147.39 L589.10,147.36 L589.64,147.32 L590.18,147.28 L590.72,147.24 L591.27,147.20 L591.81,147.16 L592.35,147.12 L592.89,147.08 L593.44,147.04 L593.98,147.00 L594.52,146.96 L595.07,146.92 L595.61,146.88 L596.15,146.84 L596.69,146.80 L597.24,146.76 L597.78,146.72 L598.32,146.68 L598.86,146.64 L599.41,146.60 L599.95,146.56 L600.49,146.52 L601.03,146.48 L601.58,146.44 L602.12,146.40 L602.66,146.36 L603.21,146.32 L603.75,146.28 L604.29,146.24 L604.83,146.20 L605.38,146.15 L605.92,146.11 L606.46,146.07 L607.00,146.03 L607.55,145.99 L608.09,145.95 L608.63,145.91 L609.17,145.87 L609.72,145.83 L610.26,145.79 L610.80,145.75 L611.35,145.71 L611.89,145.66 L612.43,145.62 L612.97,145.58 L613.52,145.54 L614.06,145.50 L614.60,145.46 L615.14,145.42 L615.69,145.38 L616.23,145.34 L616.77,145.30 L617.32,145.25 L617.86,145.21 L618.40,145.17 L618.94,145.13 L619.49,145.09 L620.03,145.05 L620.57,145.01 L621.11,144.97 L621.66,144.93 L622.20,144.89 L622.74,144.85 L623.28,144.81 L623.83,144.76 L624.37,144.72 L624.91,144.68 L625.46,144.64 L626.00,144.60 L626.54,144.56 L627.08,144.52 L627.63,144.48 L628.17,144.44 L628.71,144.40 L629.25,144.36 L629.80,144.32 L630.34,144.28 L630.88,144.24 L631.42,144.20 L631.97,144.16 L632.51,144.12 L633.05,144.07 L633.60,144.03 L634.14,143.99 L634.68,143.95 L635.22,143.91 L635.77,143.87 L636.31,143.83 L636.85,143.79 L637.39,143.75 L637.94,143.71 L638.48,143.67 L639.02,143.63 L639.56,143.59 L640.11,143.55 L640.65,143.51 L641.19,143.47 L641.74,143.43 L642.28,143.39 L642.82,143.35 L643.36,143.32 L643.91,143.28 L644.45,143.24 L644.99,143.20 L645.53,143.16 L646.08,143.12 L646.62,143.08 L647.16,143.04 L647.71,143.00 L648.25,142.96 L648.79,142.92 L649.33,142.88 L649.88,142.84 L650.42,142.80 L650.96,142.77 L651.50,142.73 L652.05,142.69 L652.59,142.65 L653.13,142.61 L653.67,142.57 L654.22,142.53 L654.76,142.49 L655.30,142.46 L655.85,142.42 L656.39,142.38 L656.93,142.34 L657.47,142.30 L658.02,142.26 L658.56,142.23 L659.10,142.19 L659.64,142.15 L660.19,142.11 L660.73,142.07 L661.27,142.04 L661.81,142.00 L662.36,141.96 L662.90,141.92 L663.44,141.88 L663.99,141.85 L664.53,141.81 L665.07,141.77 L665.61,141.73 L666.16,141.70 L666.70,141.66 L667.24,141.62 L667.78,141.58 L668.33,141.55 L668.87,141.51 L669.41,141.47 L669.95,141.44 L670.50,141.40 L671.04,141.36 L671.58,141.32 L672.13,141.29 L672.67,141.25 L673.21,141.21 L673.75,141.18 L674.30,141.14 L674.84,141.10 L675.38,141.07 L675.92,141.03 L676.47,141.00 L677.01,140.96 L677.55,140.92 L678.10,140.89 L678.64,140.85 L679.18,140.81 L679.72,140.78 L680.27,140.74 L680.81,140.71 L681.35,140.67 L681.89,140.63 L682.44,140.60 L682.98,140.56 L683.52,140.53 L684.06,140.49 L684.61,140.46 L685.15,140.42 L685.69,140.39 L686.24,140.35" fill="none" stroke="#000" stroke-width="1.7" clip-path="url(#c398)" stroke-linejoin="round"/>
<path d="M427.38,261.22 L427.92,244.51 L428.46,229.56 L429.01,216.17 L429.55,204.19 L430.09,193.47 L430.63,183.87 L431.18,175.28 L431.72,167.59 L432.26,160.73 L432.80,154.59 L433.35,149.12 L433.89,144.24 L434.43,139.90 L434.98,136.04 L435.52,132.63 L436.06,129.60 L436.60,126.94 L437.15,124.59 L437.69,122.54 L438.23,120.75 L438.77,119.20 L439.32,117.87 L439.86,116.73 L440.40,115.77 L440.94,114.97 L441.49,114.32 L442.03,113.80 L442.57,113.39 L443.12,113.09 L443.66,112.89 L444.20,112.77 L444.74,112.73 L445.29,112.77 L445.83,112.86 L446.37,113.02 L446.91,113.22 L447.46,113.47 L448.00,113.76 L448.54,114.09 L449.09,114.45 L449.63,114.84 L450.17,115.25 L450.71,115.69 L451.26,116.14 L451.80,116.61 L452.34,117.10 L452.88,117.59 L453.43,118.10 L453.97,118.62 L454.51,119.14 L455.05,119.67 L455.60,120.20 L456.14,120.73 L456.68,121.27 L457.23,121.81 L457.77,122.34 L458.31,122.88 L458.85,123.41 L459.40,123.95 L459.94,124.47 L460.48,125.00 L461.02,125.52 L461.57,126.04 L462.11,126.55 L462.65,127.05 L463.19,127.55 L463.74,128.05 L464.28,128.54 L464.82,129.02 L465.37,129.50 L465.91,129.97 L466.45,130.43 L466.99,130.89 L467.54,131.34 L468.08,131.78 L468.62,132.21 L469.16,132.64 L469.71,133.06 L470.25,133.48 L470.79,133.88 L471.33,134.28 L471.88,134.67 L472.42,135.06 L472.96,135.44 L473.51,135.81 L474.05,136.17 L474.59,136.53 L475.13,136.88 L475.68,137.23 L476.22,137.56 L476.76,137.89 L477.30,138.22 L477.85,138.54 L478.39,138.85 L478.93,139.15 L479.47,139.45 L480.02,139.74 L480.56,140.03 L481.10,140.31 L481.65,140.58 L482.19,140.85 L482.73,141.11 L483.27,141.37 L483.82,141.62 L484.36,141.87 L484.90,142.11 L485.44,142.34 L485.99,142.57 L486.53,142.80 L487.07,143.02 L487.62,143.23 L488.16,143.44 L488.70,143.65 L489.24,143.85 L489.79,144.04 L490.33,144.23 L490.87,144.42 L491.41,144.60 L491.96,144.78 L492.50,144.95 L493.04,145.12 L493.58,145.29 L494.13,145.45 L494.67,145.60 L495.21,145.76 L495.76,145.91 L496.30,146.05 L496.84,146.19 L497.38,146.33 L497.93,146.47 L498.47,146.60 L499.01,146.72 L499.55,146.85 L500.10,146.97 L500.64,147.09 L501.18,147.20 L501.72,147.31 L502.27,147.42 L502.81,147.53 L503.35,147.63 L503.90,147.73 L504.44,147.83 L504.98,147.92 L505.52,148.01 L506.07,148.10 L506.61,148.18 L507.15,148.27 L507.69,148.35 L508.24,148.43 L508.78,148.50 L509.32,148.58 L509.86,148.65 L510.41,148.72 L510.95,148.78 L511.49,148.85 L512.04,148.91 L512.58,148.97 L513.12,149.03 L513.66,149.08 L514.21,149.14 L514.75,149.19 L515.29,149.24 L515.83,149.29 L516.38,149.33 L516.92,149.38 L517.46,149.42 L518.01,149.46 L518.55,149.50 L519.09,149.54 L519.63,149.57 L520.18,149.61 L520.72,149.64 L521.26,149.67 L521.80,149.70 L522.35,149.73 L522.89,149.76 L523.43,149.78 L523.97,149.80 L524.52,149.83 L525.06,149.85 L525.60,149.87 L526.15,149.89 L526.69,149.90 L527.23,149.92 L527.77,149.93 L528.32,149.95 L528.86,149.96 L529.40,149.97 L529.94,149.98 L530.49,149.99 L531.03,150.00 L531.57,150.00 L532.11,150.01 L532.66,150.01 L533.20,150.01 L533.74,150.02 L534.29,150.02 L534.83,150.02 L535.37,150.02 L535.91,150.02 L536.46,150.02 L537.00,150.01 L537.54,150.01 L538.08,150.00 L538.63,150.00 L539.17,149.99 L539.71,149.98 L540.25,149.98 L540.80,149.97 L541.34,149.96 L541.88,149.95 L542.43,149.94 L542.97,149.92 L543.51,149.91 L544.05,149.90 L544.60,149.89 L545.14,149.87 L545.68,149.86 L546.22,149.84 L546.77,149.82 L547.31,149.81 L547.85,149.79 L548.40,149.77 L548.94,149.75 L549.48,149.73 L550.02,149.71 L550.57,149.69 L551.11,149.67 L551.65,149.65 L552.19,149.63 L552.74,149.61 L553.28,149.58 L553.82,149.56 L554.36,149.54 L554.91,149.51 L555.45,149.49 L555.99,149.46 L556.54,149.44 L557.08,149.41 L557.62,149.38 L558.16,149.36 L558.71,149.33 L559.25,149.30 L559.79,149.28 L560.33,149.25 L560.88,149.22 L561.42,149.19 L561.96,149.16 L562.50,149.13 L563.05,149.10 L563.59,149.07 L564.13,149.04 L564.68,149.01 L565.22,148.98 L565.76,148.95 L566.30,148.92 L566.85,148.88 L567.39,148.85 L567.93,148.82 L568.47,148.79 L569.02,148.75 L569.56,148.72 L570.10,148.69 L570.64,148.65 L571.19,148.62 L571.73,148.58 L572.27,148.55 L572.82,148.51 L573.36,148.48 L573.90,148.44 L574.44,148.41 L574.99,148.37 L575.53,148.34 L576.07,148.30 L576.61,148.26 L577.16,148.23 L577.70,148.19 L578.24,148.16 L578.79,148.12 L579.33,148.08 L579.87,148.04 L580.41,148.01 L580.96,147.97 L581.50,147.93 L582.04,147.89 L582.58,147.86 L583.13,147.82 L583.67,147.78 L584.21,147.74 L584.75,147.70 L585.30,147.67 L585.84,147.63 L586.38,147.59 L586.93,147.55 L587.47,147.51 L588.01,147.47 L588.55,147.43 L589.10,147.39 L589.64,147.35 L590.18,147.31 L590.72,147.27 L591.27,147.24 L591.81,147.20 L592.35,147.16 L592.89,147.12 L593.44,147.08 L593.98,147.04 L594.52,147.00 L595.07,146.96 L595.61,146.92 L596.15,146.88 L596.69,146.84 L597.24,146.80 L597.78,146.75 L598.32,146.71 L598.86,146.67 L599.41,146.63 L599.95,146.59 L600.49,146.55 L601.03,146.51 L601.58,146.47 L602.12,146.43 L602.66,146.39 L603.21,146.35 L603.75,146.31 L604.29,146.27 L604.83,146.23 L605.38,146.18 L605.92,146.14 L606.46,146.10 L607.00,146.06 L607.55,146.02 L608.09,145.98 L608.63,145.94 L609.17,145.90 L609.72,145.86 L610.26,145.82 L610.80,145.77 L611.35,145.73 L611.89,145.69 L612.43,145.65 L612.97,145.61 L613.52,145.57 L614.06,145.53 L614.60,145.49 L615.14,145.45 L615.69,145.40 L616.23,145.36 L616.77,145.32 L617.32,145.28 L617.86,145.24 L618.40,145.20 L618.94,145.16 L619.49,145.12 L620.03,145.08 L620.57,145.03 L621.11,144.99 L621.66,144.95 L622.20,144.91 L622.74,144.87 L623.28,144.83 L623.83,144.79 L624.37,144.75 L624.91,144.71 L625.46,144.67 L626.00,144.63 L626.54,144.58 L627.08,144.54 L627.63,144.50 L628.17,144.46 L628.71,144.42 L629.25,144.38 L629.80,144.34 L630.34,144.30 L630.88,144.26 L631.42,144.22 L631.97,144.18 L632.51,144.14 L633.05,144.10 L633.60,144.06 L634.14,144.02 L634.68,143.98 L635.22,143.94 L635.77,143.89 L636.31,143.85 L636.85,143.81 L637.39,143.77 L637.94,143.73 L638.48,143.69 L639.02,143.65 L639.56,143.61 L640.11,143.57 L640.65,143.53 L641.19,143.49 L641.74,143.45 L642.28,143.41 L642.82,143.37 L643.36,143.33 L643.91,143.30 L644.45,143.26 L644.99,143.22 L645.53,143.18 L646.08,143.14 L646.62,143.10 L647.16,143.06 L647.71,143.02 L648.25,142.98 L648.79,142.94 L649.33,142.90 L649.88,142.86 L650.42,142.82 L650.96,142.78 L651.50,142.74 L652.05,142.71 L652.59,142.67 L653.13,142.63 L653.67,142.59 L654.22,142.55 L654.76,142.51 L655.30,142.47 L655.85,142.43 L656.39,142.40 L656.93,142.36 L657.47,142.32 L658.02,142.28 L658.56,142.24 L659.10,142.20 L659.64,142.17 L660.19,142.13 L660.73,142.09 L661.27,142.05 L661.81,142.01 L662.36,141.98 L662.90,141.94 L663.44,141.90 L663.99,141.86 L664.53,141.82 L665.07,141.79 L665.61,141.75 L666.16,141.71 L666.70,141.67 L667.24,141.64 L667.78,141.60 L668.33,141.56 L668.87,141.52 L669.41,141.49 L669.95,141.45 L670.50,141.41 L671.04,141.38 L671.58,141.34 L672.13,141.30 L672.67,141.27 L673.21,141.23 L673.75,141.19 L674.30,141.16 L674.84,141.12 L675.38,141.08 L675.92,141.05 L676.47,141.01 L677.01,140.97 L677.55,140.94 L678.10,140.90 L678.64,140.86 L679.18,140.83 L679.72,140.79 L680.27,140.76 L680.81,140.72 L681.35,140.68 L681.89,140.65 L682.44,140.61 L682.98,140.58 L683.52,140.54 L684.06,140.51 L684.61,140.47 L685.15,140.43 L685.69,140.40 L686.24,140.36" fill="none" stroke="#f00" stroke-width="1.7" clip-path="url(#c398)" stroke-linejoin="round"/>
<path d="M426.29,269.51 L426.84,250.91 L427.38,234.30 L427.92,219.47 L428.46,206.23 L429.01,194.41 L429.55,183.85 L430.09,174.43 L430.63,166.03 L431.18,158.54 L431.72,151.87 L432.26,145.94 L432.80,140.66 L433.35,135.98 L433.89,131.84 L434.43,128.18 L434.98,124.96 L435.52,122.13 L436.06,119.65 L436.60,117.49 L437.15,115.63 L437.69,114.02 L438.23,112.64 L438.77,111.48 L439.32,110.51 L439.86,109.72 L440.40,109.08 L440.94,108.58 L441.49,108.20 L442.03,107.94 L442.57,107.79 L443.12,107.72 L443.66,107.74 L444.20,107.84 L444.74,108.00 L445.29,108.22 L445.83,108.49 L446.37,108.82 L446.91,109.18 L447.46,109.58 L448.00,110.02 L448.54,110.48 L449.09,110.97 L449.63,111.48 L450.17,112.01 L450.71,112.56 L451.26,113.12 L451.80,113.69 L452.34,114.27 L452.88,114.86 L453.43,115.46 L453.97,116.06 L454.51,116.66 L455.05,117.27 L455.60,117.87 L456.14,118.48 L456.68,119.08 L457.23,119.68 L457.77,120.28 L458.31,120.88 L458.85,121.47 L459.40,122.06 L459.94,122.64 L460.48,123.21 L461.02,123.78 L461.57,124.35 L462.11,124.90 L462.65,125.45 L463.19,126.00 L463.74,126.53 L464.28,127.06 L464.82,127.58 L465.37,128.09 L465.91,128.60 L466.45,129.09 L466.99,129.58 L467.54,130.06 L468.08,130.53 L468.62,131.00 L469.16,131.46 L469.71,131.90 L470.25,132.34 L470.79,132.78 L471.33,133.20 L471.88,133.62 L472.42,134.03 L472.96,134.43 L473.51,134.82 L474.05,135.21 L474.59,135.59 L475.13,135.96 L475.68,136.32 L476.22,136.68 L476.76,137.03 L477.30,137.37 L477.85,137.70 L478.39,138.03 L478.93,138.35 L479.47,138.67 L480.02,138.97 L480.56,139.27 L481.10,139.57 L481.65,139.86 L482.19,140.14 L482.73,140.42 L483.27,140.69 L483.82,140.95 L484.36,141.21 L484.90,141.46 L485.44,141.71 L485.99,141.95 L486.53,142.18 L487.07,142.41 L487.62,142.64 L488.16,142.86 L488.70,143.07 L489.24,143.28 L489.79,143.49 L490.33,143.69 L490.87,143.89 L491.41,144.08 L491.96,144.26 L492.50,144.44 L493.04,144.62 L493.58,144.79 L494.13,144.96 L494.67,145.13 L495.21,145.29 L495.76,145.45 L496.30,145.60 L496.84,145.75 L497.38,145.89 L497.93,146.03 L498.47,146.17 L499.01,146.31 L499.55,146.44 L500.10,146.56 L500.64,146.69 L501.18,146.81 L501.72,146.92 L502.27,147.04 L502.81,147.15 L503.35,147.26 L503.90,147.36 L504.44,147.46 L504.98,147.56 L505.52,147.66 L506.07,147.75 L506.61,147.84 L507.15,147.93 L507.69,148.02 L508.24,148.10 L508.78,148.18 L509.32,148.26 L509.86,148.33 L510.41,148.41 L510.95,148.48 L511.49,148.55 L512.04,148.61 L512.58,148.68 L513.12,148.74 L513.66,148.80 L514.21,148.85 L514.75,148.91 L515.29,148.96 L515.83,149.01 L516.38,149.06 L516.92,149.11 L517.46,149.16 L518.01,149.20 L518.55,149.24 L519.09,149.29 L519.63,149.32 L520.18,149.36 L520.72,149.40 L521.26,149.43 L521.80,149.46 L522.35,149.49 L522.89,149.52 L523.43,149.55 L523.97,149.58 L524.52,149.60 L525.06,149.63 L525.60,149.65 L526.15,149.67 L526.69,149.69 L527.23,149.71 L527.77,149.72 L528.32,149.74 L528.86,149.75 L529.40,149.77 L529.94,149.78 L530.49,149.79 L531.03,149.80 L531.57,149.81 L532.11,149.82 L532.66,149.82 L533.20,149.83 L533.74,149.83 L534.29,149.84 L534.83,149.84 L535.37,149.84 L535.91,149.84 L536.46,149.84 L537.00,149.84 L537.54,149.84 L538.08,149.83 L538.63,149.83 L539.17,149.83 L539.71,149.82 L540.25,149.81 L540.80,149.81 L541.34,149.80 L541.88,149.79 L542.43,149.78 L542.97,149.77 L543.51,149.76 L544.05,149.75 L544.60,149.74 L545.14,149.72 L545.68,149.71 L546.22,149.69 L546.77,149.68 L547.31,149.66 L547.85,149.65 L548.40,149.63 L548.94,149.61 L549.48,149.60 L550.02,149.58 L550.57,149.56 L551.11,149.54 L551.65,149.52 L552.19,149.50 L552.74,149.48 L553.28,149.46 L553.82,149.43 L554.36,149.41 L554.91,149.39 L555.45,149.36 L555.99,149.34 L556.54,149.32 L557.08,149.29 L557.62,149.27 L558.16,149.24 L558.71,149.21 L559.25,149.19 L559.79,149.16 L560.33,149.13 L560.88,149.11 L561.42,149.08 L561.96,149.05 L562.50,149.02 L563.05,148.99 L563.59,148.96 L564.13,148.93 L564.68,148.90 L565.22,148.87 L565.76,148.84 L566.30,148.81 L566.85,148.78 L567.39,148.75 L567.93,148.72 L568.47,148.68 L569.02,148.65 L569.56,148.62 L570.10,148.59 L570.64,148.55 L571.19,148.52 L571.73,148.49 L572.27,148.45 L572.82,148.42 L573.36,148.39 L573.90,148.35 L574.44,148.32 L574.99,148.28 L575.53,148.25 L576.07,148.21 L576.61,148.18 L577.16,148.14 L577.70,148.10 L578.24,148.07 L578.79,148.03 L579.33,148.00 L579.87,147.96 L580.41,147.92 L580.96,147.89 L581.50,147.85 L582.04,147.81 L582.58,147.78 L583.13,147.74 L583.67,147.70 L584.21,147.66 L584.75,147.63 L585.30,147.59 L585.84,147.55 L586.38,147.51 L586.93,147.47 L587.47,147.43 L588.01,147.40 L588.55,147.36 L589.10,147.32 L589.64,147.28 L590.18,147.24 L590.72,147.20 L591.27,147.16 L591.81,147.12 L592.35,147.08 L592.89,147.05 L593.44,147.01 L593.98,146.97 L594.52,146.93 L595.07,146.89 L595.61,146.85 L596.15,146.81 L596.69,146.77 L597.24,146.73 L597.78,146.69 L598.32,146.65 L598.86,146.61 L599.41,146.57 L599.95,146.53 L600.49,146.49 L601.03,146.45 L601.58,146.41 L602.12,146.37 L602.66,146.33 L603.21,146.29 L603.75,146.25 L604.29,146.21 L604.83,146.17 L605.38,146.12 L605.92,146.08 L606.46,146.04 L607.00,146.00 L607.55,145.96 L608.09,145.92 L608.63,145.88 L609.17,145.84 L609.72,145.80 L610.26,145.76 L610.80,145.72 L611.35,145.68 L611.89,145.64 L612.43,145.60 L612.97,145.56 L613.52,145.51 L614.06,145.47 L614.60,145.43 L615.14,145.39 L615.69,145.35 L616.23,145.31 L616.77,145.27 L617.32,145.23 L617.86,145.19 L618.40,145.15 L618.94,145.11 L619.49,145.07 L620.03,145.03 L620.57,144.98 L621.11,144.94 L621.66,144.90 L622.20,144.86 L622.74,144.82 L623.28,144.78 L623.83,144.74 L624.37,144.70 L624.91,144.66 L625.46,144.62 L626.00,144.58 L626.54,144.54 L627.08,144.50 L627.63,144.46 L628.17,144.42 L628.71,144.38 L629.25,144.34 L629.80,144.29 L630.34,144.25 L630.88,144.21 L631.42,144.17 L631.97,144.13 L632.51,144.09 L633.05,144.05 L633.60,144.01 L634.14,143.97 L634.68,143.93 L635.22,143.89 L635.77,143.85 L636.31,143.81 L636.85,143.77 L637.39,143.73 L637.94,143.69 L638.48,143.65 L639.02,143.61 L639.56,143.57 L640.11,143.53 L640.65,143.49 L641.19,143.45 L641.74,143.41 L642.28,143.37 L642.82,143.34 L643.36,143.30 L643.91,143.26 L644.45,143.22 L644.99,143.18 L645.53,143.14 L646.08,143.10 L646.62,143.06 L647.16,143.02 L647.71,142.98 L648.25,142.94 L648.79,142.90 L649.33,142.86 L649.88,142.83 L650.42,142.79 L650.96,142.75 L651.50,142.71 L652.05,142.67 L652.59,142.63 L653.13,142.59 L653.67,142.55 L654.22,142.52 L654.76,142.48 L655.30,142.44 L655.85,142.40 L656.39,142.36 L656.93,142.32 L657.47,142.29 L658.02,142.25 L658.56,142.21 L659.10,142.17 L659.64,142.13 L660.19,142.09 L660.73,142.06 L661.27,142.02 L661.81,141.98 L662.36,141.94 L662.90,141.91 L663.44,141.87 L663.99,141.83 L664.53,141.79 L665.07,141.76 L665.61,141.72 L666.16,141.68 L666.70,141.64 L667.24,141.61 L667.78,141.57 L668.33,141.53 L668.87,141.49 L669.41,141.46 L669.95,141.42 L670.50,141.38 L671.04,141.35 L671.58,141.31 L672.13,141.27 L672.67,141.24 L673.21,141.20 L673.75,141.16 L674.30,141.13 L674.84,141.09 L675.38,141.05 L675.92,141.02 L676.47,140.98 L677.01,140.94 L677.55,140.91 L678.10,140.87 L678.64,140.84 L679.18,140.80 L679.72,140.76 L680.27,140.73 L680.81,140.69 L681.35,140.66 L681.89,140.62 L682.44,140.59 L682.98,140.55 L683.52,140.51 L684.06,140.48 L684.61,140.44 L685.15,140.41 L685.69,140.37 L686.24,140.34" fill="none" stroke="#00f" stroke-width="1.7" clip-path="url(#c398)" stroke-linejoin="round"/>
<path d="M398.30,217.3v-4.0M398.30,3.3v4.0M409.73,217.3v-2.2M409.73,3.3v2.2M421.15,217.3v-2.2M421.15,3.3v2.2M432.58,217.3v-2.2M432.58,3.3v2.2M444.00,217.3v-2.2M444.00,3.3v2.2M455.43,217.3v-4.0M455.43,3.3v4.0M466.86,217.3v-2.2M466.86,3.3v2.2M478.28,217.3v-2.2M478.28,3.3v2.2M489.71,217.3v-2.2M489.71,3.3v2.2M501.13,217.3v-2.2M501.13,3.3v2.2M512.56,217.3v-4.0M512.56,3.3v4.0M523.99,217.3v-2.2M523.99,3.3v2.2M535.41,217.3v-2.2M535.41,3.3v2.2M546.84,217.3v-2.2M546.84,3.3v2.2M558.26,217.3v-2.2M558.26,3.3v2.2M569.69,217.3v-4.0M569.69,3.3v4.0M581.12,217.3v-2.2M581.12,3.3v2.2M592.54,217.3v-2.2M592.54,3.3v2.2M603.97,217.3v-2.2M603.97,3.3v2.2M615.39,217.3v-2.2M615.39,3.3v2.2M626.82,217.3v-4.0M626.82,3.3v4.0M638.25,217.3v-2.2M638.25,3.3v2.2M649.67,217.3v-2.2M649.67,3.3v2.2M661.10,217.3v-2.2M661.10,3.3v2.2M672.52,217.3v-2.2M672.52,3.3v2.2M683.95,217.3v-4.0M683.95,3.3v4.0M398.3,217.30h4.0M683.95,217.30h-4.0M398.3,206.60h2.2M683.95,206.60h-2.2M398.3,195.90h2.2M683.95,195.90h-2.2M398.3,185.20h2.2M683.95,185.20h-2.2M398.3,174.50h2.2M683.95,174.50h-2.2M398.3,163.80h4.0M683.95,163.80h-4.0M398.3,153.10h2.2M683.95,153.10h-2.2M398.3,142.40h2.2M683.95,142.40h-2.2M398.3,131.70h2.2M683.95,131.70h-2.2M398.3,121.00h2.2M683.95,121.00h-2.2M398.3,110.30h4.0M683.95,110.30h-4.0M398.3,99.60h2.2M683.95,99.60h-2.2M398.3,88.90h2.2M683.95,88.90h-2.2M398.3,78.20h2.2M683.95,78.20h-2.2M398.3,67.50h2.2M683.95,67.50h-2.2M398.3,56.80h4.0M683.95,56.80h-4.0M398.3,46.10h2.2M683.95,46.10h-2.2M398.3,35.40h2.2M683.95,35.40h-2.2M398.3,24.70h2.2M683.95,24.70h-2.2M398.3,14.00h2.2M683.95,14.00h-2.2M398.3,3.30h4.0M683.95,3.30h-4.0" stroke="#000" stroke-width="0.75" fill="none"/>
<rect x="398.3" y="3.3" width="285.65000000000003" height="214.0" fill="none" stroke="#222" stroke-width="0.8"/>
<text x="398.90" y="227.8" text-anchor="middle" class="tk">0</text>
<text x="456.03" y="227.8" text-anchor="middle" class="tk">5</text>
<text x="513.16" y="227.8" text-anchor="middle" class="tk">10</text>
<text x="570.29" y="227.8" text-anchor="middle" class="tk">15</text>
<text x="627.42" y="227.8" text-anchor="middle" class="tk">20</text>
<text x="396.0" y="220.40" text-anchor="end" class="tk">0.40</text>
<text x="396.0" y="166.90" text-anchor="end" class="tk">0.45</text>
<text x="396.0" y="113.40" text-anchor="end" class="tk">0.50</text>
<text x="396.0" y="59.90" text-anchor="end" class="tk">0.55</text>
<text x="396.0" y="6.40" text-anchor="end" class="tk">0.60</text>
<text y="250.3" class="ax"><tspan x="529.3">r</tspan><tspan x="535.1999999999999">/</tspan><tspan x="541.5999999999999">M</tspan></text>
<text transform="translate(368.1,115.5) rotate(-90)" class="ax vt">V<tspan class="sub" dy="2.4" dx="0.4">t</tspan></text>
<rect x="613.2" y="11.9" width="56.299999999999955" height="25.1" fill="#fff" stroke="#000" stroke-width="1.2"/>
<text x="618.1" y="29.0" class="bx it">b</text>
<text transform="translate(627.4000000000001,29.0) scale(1.22,1)" class="bx">=</text>
<text x="639.1" y="29.0" class="bx">10<tspan class="sup" dy="-6.2">−3</tspan></text>
<path d="M599.1,164.8H617.3" stroke="#000" stroke-width="1.6"/>
<text x="622.9" y="168.3" class="lg"><tspan class="itl">k</tspan><tspan class="lsub" dy="1.8" dx="-0.2">1</tspan></text>
<text transform="translate(634.1999999999999,168.3) scale(1.2,1)" class="lg">=</text>
<text x="643.6" y="168.3" class="lg">0<tspan dx="1.6">(SBH)</tspan></text>
<path d="M599.1,183.6H617.3" stroke="#f00" stroke-width="1.6"/>
<text x="622.9" y="187.1" class="lg"><tspan class="itl">k</tspan><tspan class="lsub" dy="1.8" dx="-0.2">1</tspan></text>
<text transform="translate(634.1999999999999,187.1) scale(1.2,1)" class="lg">=</text>
<text x="643.6" y="187.1" class="lg">1</text>
<path d="M599.1,202.5H617.3" stroke="#00f" stroke-width="1.6"/>
<text x="622.9" y="206.0" class="lg"><tspan class="itl">k</tspan><tspan class="lsub" dy="1.8" dx="-0.2">1</tspan></text>
<text transform="translate(634.1999999999999,206.0) scale(1.2,1)" class="lg">=</text>
<text transform="translate(643.9,206.0) scale(0.82,1)" class="lg">−</text>
<text x="648.4" y="206.0" class="lg">1</text>
</svg>
</body></html>
